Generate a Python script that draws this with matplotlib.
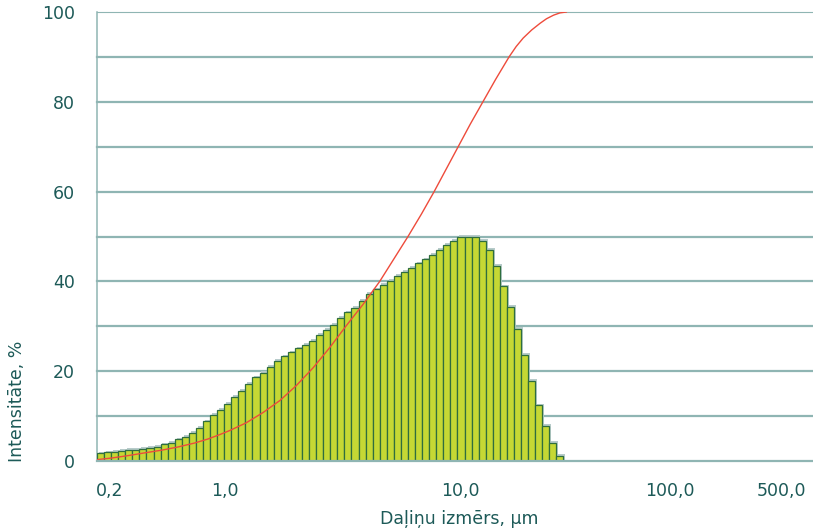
import matplotlib
matplotlib.use("Agg")
import matplotlib.pyplot as plt
import numpy as np

# intensity per size channel (channels are equal steps on a log size scale)
intensity = [1.7, 1.9, 2.1, 2.2, 2.4, 2.4, 2.7, 2.9, 3.2, 3.7,
             4.1, 4.8, 5.4, 6.3, 7.3, 8.8, 10.3, 11.3, 12.8, 14.3,
             15.7, 17.2, 18.6, 19.6, 20.9, 22.3, 23.3, 24.2, 25.1, 25.9,
             26.8, 28.0, 29.2, 30.3, 31.8, 33.1, 34.1, 35.7, 37.2, 38.2,
             39.2, 40.1, 41.2, 42.2, 43.0, 44.0, 44.9, 45.9, 47.0, 48.1,
             49.0, 49.9, 49.9, 49.9, 49.0, 47.0, 43.4, 38.9, 34.3, 29.5,
             23.6, 17.8, 12.4, 7.8, 4.0, 1.1]

# cumulative curve: channel position and percent
cum_channel = [0.0, 2.0, 4.4, 6.7, 9.1, 11.4, 13.8, 15.7, 17.4, 18.8,
               21.1, 23.5, 25.9, 28.2, 30.6, 32.9, 35.3, 37.6, 40.0, 42.0,
               44.0, 45.9, 47.7, 49.4, 51.1, 52.8, 54.6, 56.4, 58.3, 59.3,
               60.3, 61.5, 62.7, 63.6, 64.6, 65.5, 66.4]
cum_value = [0.3, 0.65, 1.2, 1.8, 2.4, 3.1, 4.0, 4.9, 5.9, 6.8,
             8.5, 10.8, 13.5, 16.8, 20.8, 25.2, 30.2, 34.8, 40.0, 45.0,
             50.0, 55.0, 60.0, 65.0, 70.0, 75.0, 80.0, 85.0, 90.0, 92.3,
             94.2, 96.0, 97.5, 98.5, 99.3, 99.8, 100.0]

size_tick_channel = [1.8, 18.1, 51.4, 81.1, 96.9]
size_labels = ["0,2", "1,0", "10,0", "100,0", "500,0"]
y_ticks = [0, 20, 40, 60, 80, 100]

TEXT = "#1d5a58"
GRID = "#8fb5b3"

plt.rcParams['font.family'] = ['DejaVu Sans']

fig = plt.figure(figsize=(8.13, 5.28), dpi=100)
ax = fig.add_axes([97 / 813, 67 / 528, 716 / 813, 449 / 528])

ch = np.arange(len(intensity))
# light shadow offset up and right of each bar
ax.bar(ch + 0.25, np.array(intensity) + 0.4, width=1, align='edge',
       color='#b7cbca', linewidth=0, zorder=2)
ax.bar(ch, intensity, width=1, align='edge', color='#c5d834',
       edgecolor='#2f6e3e', linewidth=0.9, zorder=3)
ax.plot(cum_channel, cum_value, color='#ee4b3b', lw=1.0, zorder=4,
        solid_joinstyle='round')

for y in range(10, 101, 10):
    ax.axhline(y, color=GRID, lw=0.8 if y == 100 else 1.6, zorder=1, clip_on=False)
ax.axhline(0, color=GRID, lw=1.6, zorder=5, clip_on=False)

ax.set_xlim(0, 101.3)
ax.set_ylim(0, 100)
for s in ['top', 'right', 'bottom']:
    ax.spines[s].set_visible(False)
ax.spines['left'].set_color(GRID)
ax.spines['left'].set_linewidth(1.1)

ax.set_yticks(y_ticks)
ax.set_xticks(size_tick_channel, size_labels)
ax.tick_params(axis='y', length=0, colors=TEXT, labelsize=12.5, pad=16)
ax.tick_params(axis='x', length=0, colors=TEXT, labelsize=12.5, pad=15)

fig.text(17 / 813, 66 / 528, "Intensitāte, %", rotation=90, ha='center',
         va='bottom', color=TEXT, fontsize=12.5)
fig.text(459 / 813, 9 / 528, "Daļiņu izmērs, µm", ha='center', va='center',
         color=TEXT, fontsize=12.5)

fig.savefig("out.png", dpi=100)
